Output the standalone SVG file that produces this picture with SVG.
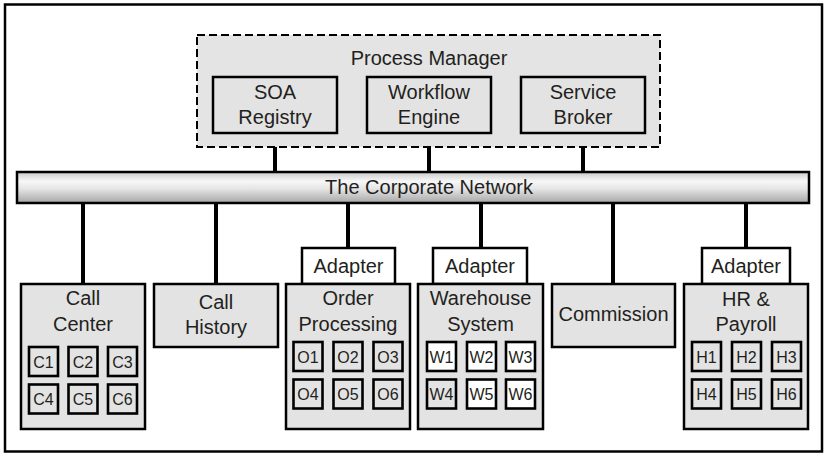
<svg xmlns="http://www.w3.org/2000/svg" width="826" height="456" viewBox="0 0 826 456">
<defs>
<linearGradient id="bar" x1="0" y1="0" x2="0" y2="1">
<stop offset="0" stop-color="#c9c9c9"/>
<stop offset="0.3" stop-color="#f7f7f7"/>
<stop offset="0.55" stop-color="#e4e4e4"/>
<stop offset="1" stop-color="#a6a6a6"/>
</linearGradient>
<style>
text{font-family:"Liberation Sans",Arial,sans-serif;font-size:20px;fill:#231f20;text-anchor:middle}
.s{font-size:16px}
.box{fill:#e3e3e3;stroke:#000;stroke-width:2.5}
.ad{fill:#fff;stroke:#000;stroke-width:2.5}
.sm{fill:#e3e3e3;stroke:#000;stroke-width:2.6}
.smw{fill:#fff;stroke:#000;stroke-width:2.6}
.con line{stroke:#000;stroke-width:4}
</style>
</defs>
<rect width="826" height="456" fill="#fff"/>
<rect x="5" y="4.5" width="817" height="447" fill="none" stroke="#000" stroke-width="2.5"/>

<g id="connectors" class="con">
<line x1="275" y1="133" x2="275" y2="172"/>
<line x1="429" y1="133" x2="429" y2="172"/>
<line x1="583" y1="133" x2="583" y2="172"/>
<line x1="83" y1="203" x2="83" y2="284"/>
<line x1="216" y1="203" x2="216" y2="284"/>
<line x1="348" y1="203" x2="348" y2="248"/>
<line x1="481" y1="203" x2="481" y2="248"/>
<line x1="613" y1="203" x2="613" y2="284"/>
<line x1="746" y1="203" x2="746" y2="248"/>
</g>

<g id="process-manager">
<rect x="197" y="35" width="463" height="112" fill="#e4e4e4" stroke="#000" stroke-width="2" stroke-dasharray="8 4"/>
<text x="429" y="65">Process Manager</text>
</g>
<g id="soa-registry">
<rect class="box" x="213" y="77" width="124" height="56"/>
<text x="275" y="99">SOA</text><text x="275" y="124">Registry</text>
</g>
<g id="workflow-engine">
<rect class="box" x="367" y="77" width="124" height="56"/>
<text x="429" y="99">Workflow</text><text x="429" y="124">Engine</text>
</g>
<g id="service-broker">
<rect class="box" x="521" y="77" width="124" height="56"/>
<text x="583" y="99">Service</text><text x="583" y="124">Broker</text>
</g>

<g id="corporate-network">
<rect x="17" y="172" width="792" height="31" fill="url(#bar)" stroke="#000" stroke-width="2.5"/>
<text x="429" y="194">The Corporate Network</text>
</g>

<g id="call-center">
<rect class="box" x="21" y="284" width="124" height="145"/>
<text x="83" y="305">Call</text><text x="83" y="331">Center</text>
<rect class="sm" x="29" y="347" width="29" height="29"/><text class="s" x="43.5" y="367.5">C1</text>
<rect class="sm" x="68.5" y="347" width="29" height="29"/><text class="s" x="83" y="367.5">C2</text>
<rect class="sm" x="108" y="347" width="29" height="29"/><text class="s" x="122.5" y="367.5">C3</text>
<rect class="sm" x="29" y="384.5" width="29" height="29"/><text class="s" x="43.5" y="405">C4</text>
<rect class="sm" x="68.5" y="384.5" width="29" height="29"/><text class="s" x="83" y="405">C5</text>
<rect class="sm" x="108" y="384.5" width="29" height="29"/><text class="s" x="122.5" y="405">C6</text>
</g>

<g id="call-history">
<rect class="box" x="154" y="284" width="124" height="63"/>
<text x="216" y="309">Call</text><text x="216" y="334">History</text>
</g>

<g id="order-adapter">
<rect class="ad" x="302" y="248" width="93" height="36"/>
<text x="348.5" y="273">Adapter</text>
</g>
<g id="order-processing">
<rect class="box" x="286" y="284" width="124" height="145"/>
<text x="348" y="305">Order</text><text x="348" y="331">Processing</text>
<rect class="sm" x="293.5" y="342" width="29" height="29"/><text class="s" x="308" y="362.5">O1</text>
<rect class="sm" x="333.5" y="342" width="29" height="29"/><text class="s" x="348" y="362.5">O2</text>
<rect class="sm" x="373.5" y="342" width="29" height="29"/><text class="s" x="388" y="362.5">O3</text>
<rect class="sm" x="293.5" y="379.5" width="29" height="29"/><text class="s" x="308" y="400">O4</text>
<rect class="sm" x="333.5" y="379.5" width="29" height="29"/><text class="s" x="348" y="400">O5</text>
<rect class="sm" x="373.5" y="379.5" width="29" height="29"/><text class="s" x="388" y="400">O6</text>
</g>

<g id="warehouse-adapter">
<rect class="ad" x="433" y="248" width="94" height="36"/>
<text x="480" y="273">Adapter</text>
</g>
<g id="warehouse-system">
<rect class="box" x="418" y="284" width="125" height="145"/>
<text x="480.5" y="305">Warehouse</text><text x="480.5" y="331">System</text>
<rect class="smw" x="427" y="342" width="29" height="29"/><text class="s" x="441.5" y="362.5">W1</text>
<rect class="smw" x="467" y="342" width="29" height="29"/><text class="s" x="481.5" y="362.5">W2</text>
<rect class="smw" x="506" y="342" width="29" height="29"/><text class="s" x="520.5" y="362.5">W3</text>
<rect class="sm" x="427" y="379.5" width="29" height="29"/><text class="s" x="441.5" y="400">W4</text>
<rect class="smw" x="467" y="379.5" width="29" height="29"/><text class="s" x="481.5" y="400">W5</text>
<rect class="smw" x="506" y="379.5" width="29" height="29"/><text class="s" x="520.5" y="400">W6</text>
</g>

<g id="commission">
<rect class="box" x="552" y="284" width="123" height="63"/>
<text x="613.5" y="321">Commission</text>
</g>

<g id="hr-adapter">
<rect class="ad" x="702" y="248" width="88" height="36"/>
<text x="746" y="273">Adapter</text>
</g>
<g id="hr-payroll">
<rect class="box" x="684" y="284" width="124" height="145"/>
<text x="746" y="306">HR &amp;</text><text x="746" y="331">Payroll</text>
<rect class="sm" x="692" y="342" width="29" height="29"/><text class="s" x="706.5" y="362.5">H1</text>
<rect class="sm" x="732" y="342" width="29" height="29"/><text class="s" x="746.5" y="362.5">H2</text>
<rect class="sm" x="772" y="342" width="29" height="29"/><text class="s" x="786.5" y="362.5">H3</text>
<rect class="sm" x="692" y="379.5" width="29" height="29"/><text class="s" x="706.5" y="400">H4</text>
<rect class="sm" x="732" y="379.5" width="29" height="29"/><text class="s" x="746.5" y="400">H5</text>
<rect class="sm" x="772" y="379.5" width="29" height="29"/><text class="s" x="786.5" y="400">H6</text>
</g>
</svg>
